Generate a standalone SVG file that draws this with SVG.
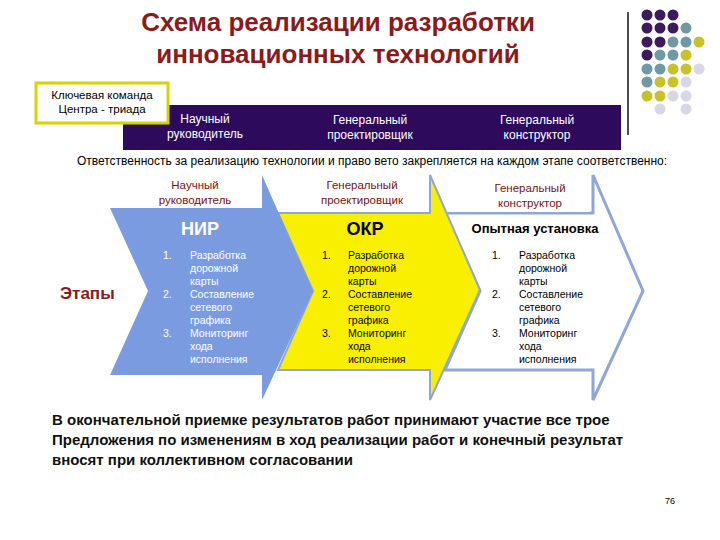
<svg xmlns="http://www.w3.org/2000/svg" width="720" height="540" viewBox="0 0 720 540">
<style>
text{font-family:"Liberation Sans",Arial,sans-serif}
.t{font-size:26px;font-weight:bold;fill:#8b1a1a;text-anchor:middle}
.w{font-size:12px;fill:#fff;text-anchor:middle}
.h{font-size:11.5px;fill:#7a1010;text-anchor:middle}
.lw{font-size:10.5px;fill:#fff}
.lk{font-size:10.5px;fill:#000}
.b{font-size:15px;font-weight:bold;fill:#111}
.P{fill:#3b1a5e}.T{fill:#6f9aa5}.Y{fill:#c8c22a}.L{fill:#d6d8e6}
</style>
<text class="t" x="338" y="31">Схема реализации разработки</text>
<text class="t" x="338" y="63">инновационных  технологий</text>
<g id="dots">
<circle class="P" cx="647" cy="15" r="5.5"/><circle class="P" cx="660" cy="15" r="5.5"/><circle class="P" cx="673" cy="15" r="5.5"/>
<circle class="P" cx="647" cy="28" r="5.5"/><circle class="P" cx="660" cy="28" r="5.5"/><circle class="P" cx="673" cy="28" r="5.5"/><circle class="T" cx="686" cy="28" r="5.5"/>
<circle class="P" cx="647" cy="42" r="5.5"/><circle class="P" cx="660" cy="42" r="5.5"/><circle class="T" cx="673" cy="42" r="5.5"/><circle class="T" cx="686" cy="42" r="5.5"/><circle class="Y" cx="699" cy="42" r="5.5"/>
<circle class="P" cx="647" cy="55" r="5.5"/><circle class="T" cx="660" cy="55" r="5.5"/><circle class="T" cx="673" cy="55" r="5.5"/><circle class="Y" cx="686" cy="55" r="5.5"/>
<circle class="T" cx="647" cy="69" r="5.5"/><circle class="T" cx="660" cy="69" r="5.5"/><circle class="Y" cx="673" cy="69" r="5.5"/><circle class="Y" cx="686" cy="69" r="5.5"/><circle class="L" cx="699" cy="69" r="5.5"/>
<circle class="T" cx="647" cy="82" r="5.5"/><circle class="Y" cx="660" cy="82" r="5.5"/><circle class="Y" cx="673" cy="82" r="5.5"/><circle class="L" cx="686" cy="82" r="5.5"/>
<circle class="Y" cx="647" cy="96" r="5.5"/><circle class="Y" cx="660" cy="96" r="5.5"/><circle class="L" cx="673" cy="96" r="5.5"/><circle class="L" cx="686" cy="96" r="5.5"/>
<circle class="L" cx="660" cy="109" r="5.5"/><circle class="L" cx="686" cy="109" r="5.5"/>
<line x1="628" y1="12" x2="628" y2="135" stroke="#111" stroke-width="1.5"/>
</g>
<g id="triad">
<rect x="123" y="105" width="498" height="45" fill="#2e0a5c"/>
<text class="w" x="205" y="123">Научный</text><text class="w" x="205" y="138">руководитель</text>
<text class="w" x="370" y="124">Генеральный</text><text class="w" x="370" y="139">проектировщик</text>
<text class="w" x="537" y="124">Генеральный</text><text class="w" x="537" y="139">конструктор</text>
</g>
<g id="key">
<rect x="36" y="83" width="132" height="40" fill="#fff" stroke="#d4d400" stroke-width="3"/>
<text x="102" y="99" font-size="11.5" text-anchor="middle">Ключевая команда</text>
<text x="102" y="113" font-size="11.5" text-anchor="middle">Центра - триада</text>
</g>
<text x="372" y="165" font-size="12" text-anchor="middle">Ответственность за реализацию технологии и право вето закрепляется на каждом этапе соответственно:</text>
<g id="stage3">
<polygon points="445,213 593,213 593,175 643,291 593,400 593,370 445,370 480,291" fill="#fff" stroke="#8fa6d8" stroke-width="3"/>
<rect x="440" y="176" width="150" height="36" fill="#fff"/>
<text class="h" x="530" y="192">Генеральный</text><text class="h" x="530" y="207">конструктор</text>
<text x="535" y="233" font-size="13" font-weight="bold" text-anchor="middle">Опытная установка</text>
<text class="lk" x="492" y="259">1.</text><text class="lk" x="519" y="259">Разработка</text><text class="lk" x="519" y="272">дорожной</text><text class="lk" x="519" y="285">карты</text>
<text class="lk" x="492" y="298">2.</text><text class="lk" x="519" y="298">Составление</text><text class="lk" x="519" y="311">сетевого</text><text class="lk" x="519" y="324">графика</text>
<text class="lk" x="492" y="337">3.</text><text class="lk" x="519" y="337">Мониторинг</text><text class="lk" x="519" y="350">хода</text><text class="lk" x="519" y="363">исполнения</text>
</g>
<g id="stage2">
<polygon points="278,213 430,213 430,175 480,290 430,400 430,370 278,370 313,291" fill="#f8f000" stroke="#8fa6d8" stroke-width="2"/>
<text class="h" x="362" y="189">Генеральный</text><text class="h" x="362" y="204">проектировщик</text>
<text x="365" y="235" font-size="18" font-weight="bold" text-anchor="middle">ОКР</text>
<text class="lk" x="322" y="259">1.</text><text class="lk" x="348" y="259">Разработка</text><text class="lk" x="348" y="272">дорожной</text><text class="lk" x="348" y="285">карты</text>
<text class="lk" x="322" y="298">2.</text><text class="lk" x="348" y="298">Составление</text><text class="lk" x="348" y="311">сетевого</text><text class="lk" x="348" y="324">графика</text>
<text class="lk" x="322" y="337">3.</text><text class="lk" x="348" y="337">Мониторинг</text><text class="lk" x="348" y="350">хода</text><text class="lk" x="348" y="363">исполнения</text>
</g>
<g id="stage1">
<polygon points="110,208 262,208 262,175 313,291 262,400 262,375 110,375 148,291" fill="#7b9be0"/>
<text class="h" x="195" y="189">Научный</text><text class="h" x="195" y="204">руководитель</text>
<text x="200" y="235" font-size="18" font-weight="bold" fill="#fff" text-anchor="middle">НИР</text>
<text class="lw" x="163" y="259">1.</text><text class="lw" x="190" y="259">Разработка</text><text class="lw" x="190" y="272">дорожной</text><text class="lw" x="190" y="285">карты</text>
<text class="lw" x="163" y="298">2.</text><text class="lw" x="190" y="298">Составление</text><text class="lw" x="190" y="311">сетевого</text><text class="lw" x="190" y="324">графика</text>
<text class="lw" x="163" y="337">3.</text><text class="lw" x="190" y="337">Мониторинг</text><text class="lw" x="190" y="350">хода</text><text class="lw" x="190" y="363">исполнения</text>
</g>
<text x="60" y="299" font-size="17" font-weight="bold" fill="#8b1a1a">Этапы</text>
<text class="b" x="52" y="425">В окончательной приемке результатов работ принимают участие все трое</text>
<text class="b" x="52" y="445">Предложения по изменениям в ход реализации работ и конечный результат</text>
<text class="b" x="52" y="465">вносят при коллективном согласовании</text>
<text x="665" y="504" font-size="9">76</text>
</svg>
